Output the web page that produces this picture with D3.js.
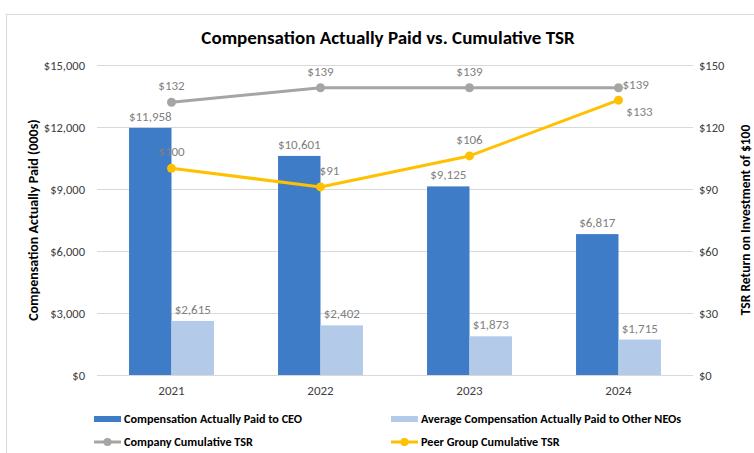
<!DOCTYPE html>
<html>
<head>
<meta charset="utf-8">
<script src="https://cdn.jsdelivr.net/npm/d3@7"></script>
<style>
  body { margin: 0; background: #fff; }
  svg { display: block; }
</style>
</head>
<body>
<svg id="chart" width="754" height="453"></svg>
<script>
// data
const years = ["2021", "2022", "2023", "2024"];
const ceoPay = [11958, 10601, 9125, 6817];
const neoPay = [2615, 2402, 1873, 1715];
const companyTsr = [132, 139, 139, 139];
const peerTsr = [100, 91, 106, 133];
const leftTicks = [0, 3000, 6000, 9000, 12000, 15000];
const rightTicks = [0, 30, 60, 90, 120, 150];

const font = "Carlito, 'Liberation Sans Narrow', 'Open Sans', sans-serif";
const ceoColor = "#3f7cc8";
const neoColor = "#b3cbe8";
const grayColor = "#a5a5a5";
const peerColor = "#ffc000";
const labelColor = "#7f7f7f";

const plot = { left: 97, right: 693, top: 65, bottom: 375 };

const svg = d3.select("#chart");

// outer frame
svg.append("rect")
  .attr("x", 6.5).attr("y", 14.5)
  .attr("width", 760).attr("height", 460)
  .attr("fill", "none")
  .attr("stroke", "#d9d9d9");

// title
svg.append("text")
  .attr("x", 388).attr("y", 44)
  .attr("text-anchor", "middle")
  .attr("font-family", font)
  .attr("font-size", "19px")
  .attr("font-weight", "bold")
  .attr("fill", "#000")
  .text("Compensation Actually Paid vs. Cumulative TSR");

// scales
const x = d3.scaleBand()
  .domain(years)
  .range([plot.left, plot.right])
  .paddingInner(0.43)
  .paddingOuter(0.215);

const xSub = d3.scaleBand()
  .domain(["ceo", "neo"])
  .range([0, x.bandwidth()]);

const yLeft = d3.scaleLinear().domain([0, 15000]).range([plot.bottom, plot.top]);
const yRight = d3.scaleLinear().domain([0, 150]).range([plot.bottom, plot.top]);

const cx = d => x(d) + x.bandwidth() / 2;

// gridlines
svg.append("g")
  .selectAll("line")
  .data(leftTicks)
  .join("line")
  .attr("x1", plot.left).attr("x2", plot.right)
  .attr("y1", d => Math.round(yLeft(d)) + 0.5)
  .attr("y2", d => Math.round(yLeft(d)) + 0.5)
  .attr("stroke", "#d9d9d9")
  .attr("stroke-width", 1);

// left axis
const leftAxis = svg.append("g")
  .attr("transform", `translate(${plot.left},0)`)
  .call(d3.axisLeft(yLeft).tickValues(leftTicks).tickSize(0).tickPadding(12)
    .tickFormat(d => "$" + d3.format(",")(d)));
leftAxis.select(".domain").remove();
leftAxis.selectAll("text")
  .attr("font-family", font).attr("font-size", "12.5px").attr("fill", "#404040");

// right axis
const rightAxis = svg.append("g")
  .attr("transform", `translate(${plot.right},0)`)
  .call(d3.axisRight(yRight).tickValues(rightTicks).tickSize(0).tickPadding(6)
    .tickFormat(d => "$" + d));
rightAxis.select(".domain").remove();
rightAxis.selectAll("text")
  .attr("font-family", font).attr("font-size", "12.5px").attr("fill", "#404040");

// bottom axis labels
const bottomAxis = svg.append("g")
  .attr("transform", `translate(0,${plot.bottom})`)
  .call(d3.axisBottom(x).tickSize(0).tickPadding(11));
bottomAxis.select(".domain").remove();
bottomAxis.selectAll("text")
  .attr("font-family", font).attr("font-size", "13px").attr("fill", "#404040");

// axis titles
svg.append("text")
  .attr("transform", `translate(38,${(plot.top + plot.bottom) / 2}) rotate(-90)`)
  .attr("text-anchor", "middle")
  .attr("font-family", font).attr("font-size", "14px").attr("font-weight", "bold")
  .text("Compensation Actually Paid (000s)");

svg.append("text")
  .attr("transform", `translate(750,${(plot.top + plot.bottom) / 2}) rotate(-90)`)
  .attr("text-anchor", "middle")
  .attr("font-family", font).attr("font-size", "13.5px").attr("font-weight", "bold")
  .text("TSR Return on Investment of $100");

// bars
const barData = years.flatMap((yr, i) => [
  { year: yr, key: "ceo", value: ceoPay[i], color: ceoColor },
  { year: yr, key: "neo", value: neoPay[i], color: neoColor }
]);

svg.append("g")
  .selectAll("rect")
  .data(barData)
  .join("rect")
  .attr("x", d => x(d.year) + xSub(d.key))
  .attr("y", d => yLeft(d.value))
  .attr("width", xSub.bandwidth())
  .attr("height", d => yLeft(0) - yLeft(d.value))
  .attr("fill", d => d.color);

svg.append("g")
  .selectAll("text")
  .data(barData)
  .join("text")
  .attr("x", d => x(d.year) + xSub(d.key) + xSub.bandwidth() / 2)
  .attr("y", d => yLeft(d.value) - 7)
  .attr("text-anchor", "middle")
  .attr("font-family", font).attr("font-size", "13px")
  .attr("fill", labelColor)
  .text(d => "$" + d3.format(",")(d.value));

// lines
const drawLine = (values, color, labelPos) => {
  const pts = years.map((yr, i) => ({ x: cx(yr), y: yRight(values[i]), v: values[i], pos: labelPos[i] }));
  const g = svg.append("g");
  g.append("path")
    .datum(pts)
    .attr("fill", "none")
    .attr("stroke", color)
    .attr("stroke-width", 3)
    .attr("stroke-linejoin", "round")
    .attr("d", d3.line().x(d => d.x).y(d => d.y));
  g.selectAll("circle")
    .data(pts)
    .join("circle")
    .attr("cx", d => d.x).attr("cy", d => d.y).attr("r", 4.5)
    .attr("fill", color);
  g.selectAll("text")
    .data(pts)
    .join("text")
    .attr("x", d => d.pos === "right" ? d.x + 4 : d.pos === "belowRight" ? d.x + 21 : d.x + (d.pos === "aboveRight" ? 9 : 0))
    .attr("y", d => d.pos === "right" ? d.y + 1 : d.pos === "belowRight" ? d.y + 16 : d.y - 12)
    .attr("text-anchor", d => d.pos === "right" ? "start" : "middle")
    .attr("font-family", font).attr("font-size", "13px")
    .attr("fill", labelColor)
    .text(d => "$" + d.v);
};

drawLine(companyTsr, grayColor, ["above", "above", "above", "right"]);
drawLine(peerTsr, peerColor, ["above", "aboveRight", "above", "belowRight"]);

// legend
const legendItems = [
  { label: "Compensation Actually Paid to CEO", color: ceoColor, type: "bar", x: 94, y: 419 },
  { label: "Average Compensation Actually Paid to Other NEOs", color: neoColor, type: "bar", x: 391, y: 419 },
  { label: "Company Cumulative TSR", color: grayColor, type: "line", x: 94, y: 442 },
  { label: "Peer Group Cumulative TSR", color: peerColor, type: "line", x: 391, y: 442 }
];

const legend = svg.append("g")
  .selectAll("g")
  .data(legendItems)
  .join("g")
  .attr("transform", d => `translate(${d.x},${d.y})`);

legend.filter(d => d.type === "bar").append("rect")
  .attr("x", 0).attr("y", -3).attr("width", 27).attr("height", 6)
  .attr("fill", d => d.color);

legend.filter(d => d.type === "line").append("line")
  .attr("x1", 0).attr("x2", 27).attr("y1", 0).attr("y2", 0)
  .attr("stroke", d => d.color).attr("stroke-width", 3);

legend.filter(d => d.type === "line").append("circle")
  .attr("cx", 13.5).attr("cy", 0).attr("r", 4)
  .attr("fill", d => d.color);

legend.append("text")
  .attr("x", 30).attr("y", 4)
  .attr("font-family", font).attr("font-size", "12.2px").attr("font-weight", "bold")
  .attr("fill", "#000")
  .text(d => d.label);
</script>
</body>
</html>
